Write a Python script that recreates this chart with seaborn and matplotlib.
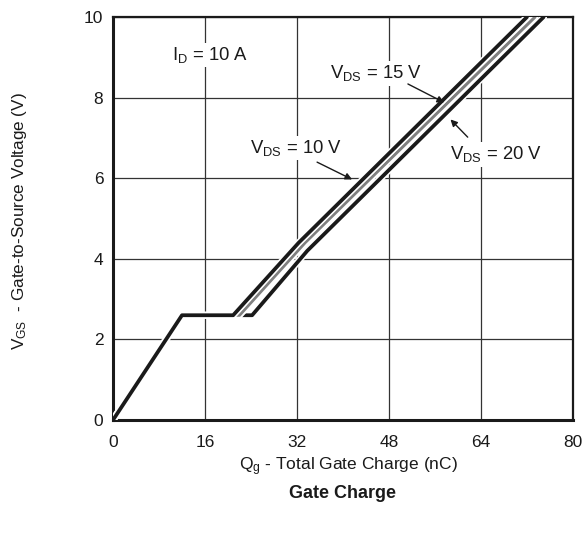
import pandas as pd
import matplotlib
matplotlib.use("Agg")
import matplotlib.pyplot as plt
import matplotlib.patheffects as pe
import seaborn as sns

# curve data (Qg in nC, VGS in V)
qg_10v = [0, 12.0, 20.9, 32.3, 72.0]
vgs_10v = [0, 2.6, 2.6, 4.4, 10.0]
qg_15v = [0, 12.0, 22.0, 33.4, 73.4]
vgs_15v = [0, 2.6, 2.6, 4.4, 10.0]
qg_20v = [0, 12.0, 24.2, 33.8, 74.9]
vgs_20v = [0, 2.6, 2.6, 4.2, 10.0]

x_ticks = [0, 16, 32, 48, 64, 80]
y_ticks = [0, 2, 4, 6, 8, 10]

sns.set_style("white")
plt.rcParams["font.family"] = ["Liberation Sans", "DejaVu Sans"]
plt.rcParams["mathtext.fontset"] = "custom"
plt.rcParams["mathtext.rm"] = "Liberation Sans"
plt.rcParams["mathtext.it"] = "Liberation Sans"

fig = plt.figure(figsize=(5.87, 5.34), dpi=100)
ax = fig.add_axes([0.1925, 0.2135, 0.7835, 0.7545])

halo = [pe.Stroke(linewidth=5, foreground="white"), pe.Normal()]
curves = [
    (qg_20v, vgs_20v, "#1a1a1a", 2.7),
    (qg_15v, vgs_15v, "#808080", 2.2),
    (qg_10v, vgs_10v, "#1a1a1a", 2.7),
]
for qg, vgs, color, lw in curves:
    df = pd.DataFrame({"qg": qg, "vgs": vgs})
    sns.lineplot(data=df, x="qg", y="vgs", ax=ax, color=color, linewidth=lw,
                 sort=False, estimator=None, path_effects=halo, zorder=3)

ax.set_xlim(0, 80)
ax.set_ylim(0, 10)
ax.set_xticks(x_ticks)
ax.set_yticks(y_ticks)
ax.tick_params(length=0, labelsize=12.5, colors="#1a1a1a")
ax.tick_params(axis="x", pad=11)
ax.tick_params(axis="y", pad=7)
ax.grid(True, color="#333333", linewidth=0.9)
ax.set_axisbelow(True)
for side in ["left", "bottom"]:
    ax.spines[side].set_linewidth(2.2)
for side in ["top", "right"]:
    ax.spines[side].set_linewidth(1.6)
for sp in ax.spines.values():
    sp.set_color("#1a1a1a")
    sp.set_visible(True)

ax.set_xlabel("")
ax.set_ylabel("")
fig.text(348 / 587, 1 - 467 / 534, r"Q$_{\mathrm{g}}$ - Total Gate Charge (nC)",
         ha="center", va="center", fontsize=12.5, color="#1a1a1a")
fig.text(20 / 587, 1 - 221 / 534, r"V$_{\mathrm{GS}}$  - Gate-to-Source Voltage (V)",
         ha="center", va="center", rotation=90, fontsize=12.3, color="#1a1a1a")
fig.text(0.584, 1 - 494 / 534, "Gate Charge", ha="center", va="center",
         fontsize=13, fontweight="bold", color="#1a1a1a")

box = dict(boxstyle="square,pad=0.12", facecolor="white", edgecolor="none")
tk = dict(fontsize=13.3, color="#1a1a1a", va="baseline", ha="left", bbox=box,
          zorder=4)
ax.text(10.2, 8.93, r"I$_{\mathrm{D}}$ = 10 A", **tk)
ax.text(37.7, 8.48, r"V$_{\mathrm{DS}}$ = 15 V", **tk)
ax.text(23.9, 6.62, r"V$_{\mathrm{DS}}$ = 10 V", **tk)
ax.text(58.6, 6.47, r"V$_{\mathrm{DS}}$ = 20 V", **tk)

arrow = dict(arrowstyle="-|>", color="#1a1a1a", lw=1.0, mutation_scale=10,
             shrinkA=0, shrinkB=0)
ax.annotate("", xy=(57.6, 7.88), xytext=(51.3, 8.34), arrowprops=arrow, zorder=5)
ax.annotate("", xy=(41.6, 5.97), xytext=(35.5, 6.40), arrowprops=arrow, zorder=5)
ax.annotate("", xy=(58.7, 7.46), xytext=(61.7, 7.02), arrowprops=arrow, zorder=5)

fig.savefig("out.png", dpi=100)
